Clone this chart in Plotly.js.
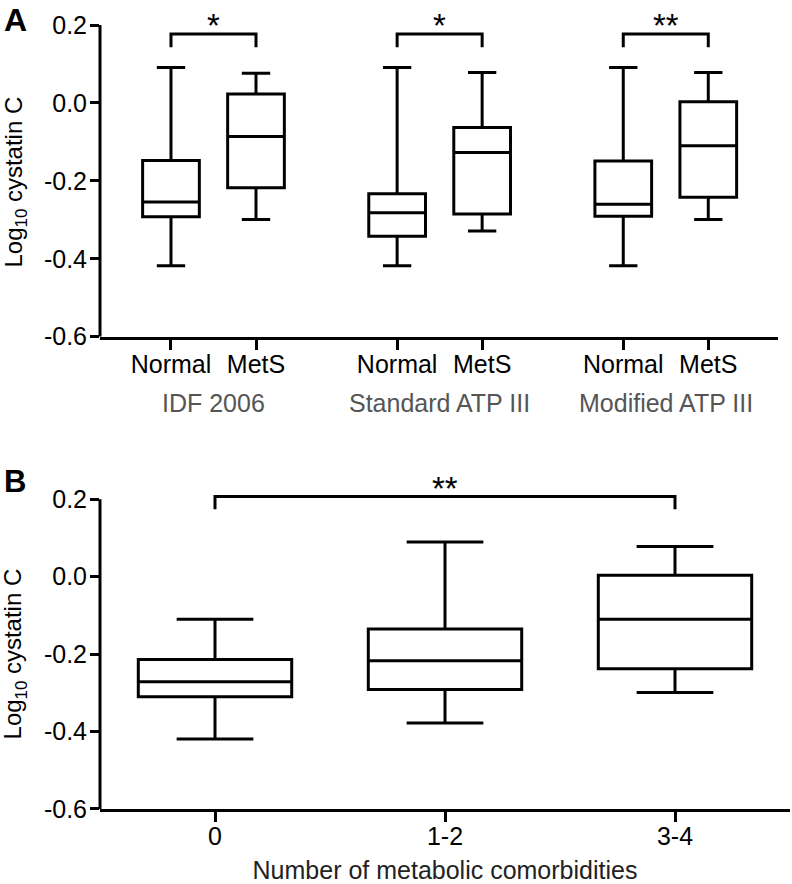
<!DOCTYPE html>
<html>
<head>
<meta charset="utf-8">
<script src="https://cdn.plot.ly/plotly-3.0.1.min.js"></script>
<style>html,body{margin:0;padding:0;background:#fff;}#chart{width:792px;height:884px;}</style>
</head>
<body>
<div id="chart"></div>
<script>
// ---------- Panel A data ----------
const groupsA = ["IDF 2006", "Standard ATP III", "Modified ATP III"];
const subCatsA = ["Normal", "MetS"];
// order: IDF Normal, IDF MetS, Std Normal, Std MetS, Mod Normal, Mod MetS
const lowerA  = [-0.418, -0.299, -0.418, -0.329, -0.418, -0.299];
const q1A     = [-0.292, -0.218, -0.342, -0.285, -0.291, -0.242];
const medianA = [-0.254, -0.086, -0.282, -0.127, -0.260, -0.110];
const q3A     = [-0.148,  0.023, -0.233, -0.063, -0.149,  0.003];
const upperA  = [ 0.091,  0.076,  0.091,  0.078,  0.091,  0.078];
const sigA    = ["*", "*", "**"];

// ---------- Panel B data ----------
const catsB   = ["0", "1-2", "3-4"];
const lowerB  = [-0.419, -0.378, -0.299];
const q1B     = [-0.310, -0.291, -0.238];
const medianB = [-0.271, -0.217, -0.110];
const q3B     = [-0.214, -0.135,  0.004];
const upperB  = [-0.110,  0.090,  0.078];
const sigB    = {from: "0", to: "3-4", text: "**"};

const yTicks = [-0.6, -0.4, -0.2, 0.0, 0.2];
const yTickText = ["-0.6", "-0.4", "-0.2", "0.0", "0.2"];
const yTitle = "Log<sub>10</sub> cystatin C";
const xTitleB = "Number of metabolic comorbidities";

// ---------- layout helpers ----------
const FONT = "Liberation Sans, Arial, Helvetica, sans-serif";
const FS = 25;
const groupGap = 0.66;
const posA = [];
const labelsA = [];
groupsA.forEach((g, gi) => subCatsA.forEach((s, si) => {
  posA.push(gi * (subCatsA.length + groupGap) + si);
  labelsA.push(s);
}));
const posB = catsB.map((c, i) => i);

const boxStyle = {
  type: "box",
  line: {color: "#000", width: 3},
  fillcolor: "rgba(255,255,255,0)",
  whiskerwidth: 0.5,
  boxpoints: false,
  showlegend: false,
  hoverinfo: "skip"
};

const traces = [
  Object.assign({}, boxStyle, {
    x: posA, q1: q1A, median: medianA, q3: q3A,
    lowerfence: lowerA, upperfence: upperA,
    width: 0.667, xaxis: "x", yaxis: "y"
  }),
  Object.assign({}, boxStyle, {
    x: posB, q1: q1B, median: medianB, q3: q3B,
    lowerfence: lowerB, upperfence: upperB,
    width: 0.667, xaxis: "x2", yaxis: "y2"
  })
];

const shapes = [];
const annotations = [];
const bl = {color: "#000", width: 3};

// y-axis lines ending at 0.2
["y", "y2"].forEach(ya => {
  shapes.push({type: "line", xref: "paper", yref: ya, x0: 0, x1: 0, y0: -0.6, y1: 0.2, line: bl});
});

// Panel A brackets and stars
const brA = 0.177, brAend = 0.143;
sigA.forEach((s, gi) => {
  const xa = posA[gi * 2], xb = posA[gi * 2 + 1];
  shapes.push({type: "path", xref: "x", yref: "y",
    path: `M${xa},${brAend} L${xa},${brA} L${xb},${brA} L${xb},${brAend}`, line: bl});
  annotations.push({xref: "x", yref: "y", x: (xa + xb) / 2, y: 0.20, text: s,
    showarrow: false, font: {family: FONT, size: 33, color: "#000"}, yanchor: "middle"});
  annotations.push({xref: "x", yref: "paper", x: (xa + xb) / 2, y: 0.5441, text: groupsA[gi],
    showarrow: false, font: {family: FONT, size: FS, color: "#555"}, yanchor: "middle"});
});

// Panel B bracket
const brB = 0.207, brBend = 0.174;
const xb0 = posB[catsB.indexOf(sigB.from)], xb1 = posB[catsB.indexOf(sigB.to)];
shapes.push({type: "path", xref: "x2", yref: "y2",
  path: `M${xb0},${brBend} L${xb0},${brB} L${xb1},${brB} L${xb1},${brBend}`, line: bl});
annotations.push({xref: "x2", yref: "y2", x: (xb0 + xb1) / 2, y: 0.228, text: sigB.text,
  showarrow: false, font: {family: FONT, size: 33, color: "#000"}, yanchor: "middle"});

// Panel letters
annotations.push({xref: "paper", yref: "paper", x: -0.123, y: 1.0, text: "<b>A</b>",
  showarrow: false, font: {family: FONT, size: 32, color: "#000"}, xanchor: "center", yanchor: "top"});
annotations.push({xref: "paper", yref: "paper", x: -0.123, y: 0.4551, text: "<b>B</b>",
  showarrow: false, font: {family: FONT, size: 31, color: "#000"}, xanchor: "center", yanchor: "middle"});

// Y-axis titles (rotated)
[[0.7941], [0.2602]].forEach(([yc]) => {
  annotations.push({xref: "paper", yref: "paper", x: -0.1225, y: yc, text: yTitle, textangle: -90,
    showarrow: false, font: {family: FONT, size: 24, color: "#000"}, xanchor: "center", yanchor: "middle"});
});

const yAxisCommon = {
  tickvals: yTicks, ticktext: yTickText,
  ticks: "outside", ticklen: 9, tickwidth: 3, tickcolor: "#000",
  showline: false, showgrid: false, zeroline: false,
  tickfont: {family: FONT, size: FS, color: "#000"},
  ticklabelstandoff: -2,
  automargin: false,
  fixedrange: true
};
const xAxisCommon = {
  ticks: "outside", ticklen: 10, tickwidth: 3, tickcolor: "#000",
  showline: true, linewidth: 3, linecolor: "#000",
  showgrid: false, zeroline: false,
  tickfont: {family: FONT, size: FS, color: "#000"},
  ticklabelstandoff: -7,
  automargin: false,
  fixedrange: true
};

const layout = {
  width: 792, height: 884,
  margin: {l: 100, r: 2, t: 0, b: 0, autoexpand: false},
  paper_bgcolor: "#fff", plot_bgcolor: "#fff",
  font: {family: FONT, color: "#000"},
  xaxis: Object.assign({}, xAxisCommon, {
    domain: [0, 0.9826], anchor: "y", range: [-0.835, 7.14],
    tickvals: posA, ticktext: labelsA
  }),
  yaxis: Object.assign({}, yAxisCommon, {
    domain: [0.61912, 0.99814], anchor: "x", range: [-0.6, 0.26]
  }),
  xaxis2: Object.assign({}, xAxisCommon, {
    domain: [0, 1], anchor: "y2", range: [-0.5, 2.5],
    tickvals: posB, ticktext: catsB,
    title: {text: xTitleB, font: {family: FONT, size: FS, color: "#222"}}
  }),
  yaxis2: Object.assign({}, yAxisCommon, {
    domain: [0.08484, 0.46584], anchor: "x2", range: [-0.6, 0.27]
  }),
  shapes: shapes,
  annotations: annotations
};

Plotly.newPlot("chart", traces, layout, {displayModeBar: false, staticPlot: true});
</script>
</body>
</html>
